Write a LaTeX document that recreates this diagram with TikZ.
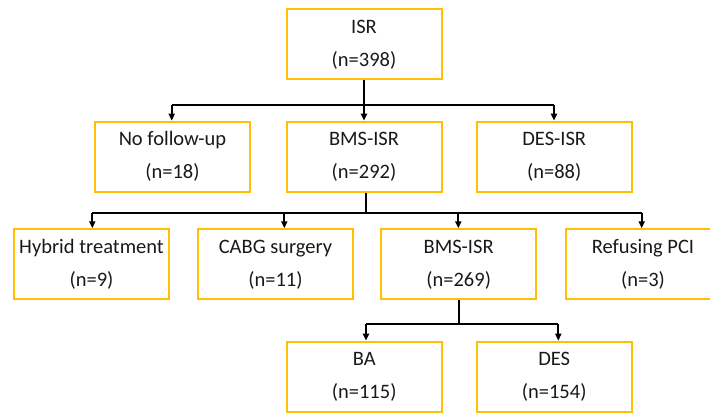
\documentclass[tikz,border=0pt]{standalone}
\usepackage{fontspec}
\setmainfont{Carlito}
\usetikzlibrary{arrows.meta}
\definecolor{boxorange}{HTML}{FFC000}
\tikzset{
  flowbox/.style={draw=boxorange, line width=2pt, minimum width=155pt, minimum height=70pt,
    inner sep=0pt, align=center, font=\fontsize{20.5}{33}\selectfont, text=black!90},
  conn/.style={draw=black, line width=2pt},
  arr/.style={conn, -{Triangle[length=7pt,width=6pt]}}
}
\begin{document}
\begin{tikzpicture}[x=1pt,y=1pt]
\useasboundingbox (0,0) rectangle (710,-414);
% row 1
\node[flowbox] (isr) at (364,-44.3) {ISR\\(n=398)};
% row 2
\node[flowbox] (nof) at (172.5,-156.7) {No follow-up\\(n=18)};
\node[flowbox] (bms1) at (364,-156.7) {BMS-ISR\\(n=292)};
\node[flowbox] (desisr) at (554.2,-156.7) {DES-ISR\\(n=88)};
% row 3
\node[flowbox] (hyb) at (91.5,-264.3) {Hybrid treatment\\(n=9)};
\node[flowbox] (cabg) at (275.5,-264.3) {CABG surgery\\(n=11)};
\node[flowbox] (bms2) at (458.7,-264.3) {BMS-ISR\\(n=269)};
\node[flowbox] (ref) at (643,-264.3) {Refusing PCI\\(n=3)};
% row 4
\node[flowbox] (ba) at (364.2,-376.7) {BA\\(n=115)};
\node[flowbox] (des) at (554.2,-376.7) {DES\\(n=154)};
% junctions
\coordinate (j1) at (364,-105);
\coordinate (j2) at (366,-212.7);
\coordinate (j3) at (459,-324);
% ISR -> row 2
\draw[conn] (isr.south) -- (j1);
\draw[conn] ([xshift=-0.8pt]nof.north |- j1) -- ([xshift=-0.2pt]desisr.north |- j1);
\draw[arr] ([xshift=-0.8pt]nof.north |- j1) -- ([xshift=-0.8pt]nof.north);
\draw[arr] (j1) -- (bms1.north);
\draw[arr] ([xshift=-0.2pt]desisr.north |- j1) -- ([xshift=-0.2pt]desisr.north);
% BMS-ISR -> row 3
\draw[conn] ([xshift=2pt]bms1.south) -- (j2);
\draw[conn] ([xshift=0.8pt]hyb.north |- j2) -- ([xshift=-1.3pt]ref.north |- j2);
\draw[arr] ([xshift=0.8pt]hyb.north |- j2) -- ([xshift=0.8pt]hyb.north);
\draw[arr] ([xshift=8.8pt]cabg.north |- j2) -- ([xshift=8.8pt]cabg.north);
\draw[arr] ([xshift=-0.4pt]bms2.north |- j2) -- ([xshift=-0.4pt]bms2.north);
\draw[arr] ([xshift=-1.3pt]ref.north |- j2) -- ([xshift=-1.3pt]ref.north);
% BMS-ISR (269) -> row 4
\draw[conn] ([xshift=0.3pt]bms2.south) -- (j3);
\draw[conn] ([xshift=1.8pt]ba.north |- j3) -- ([xshift=4.1pt]des.north |- j3);
\draw[arr] ([xshift=1.8pt]ba.north |- j3) -- ([xshift=1.8pt]ba.north);
\draw[arr] ([xshift=4.1pt]des.north |- j3) -- ([xshift=4.1pt]des.north);
\end{tikzpicture}
\end{document}
